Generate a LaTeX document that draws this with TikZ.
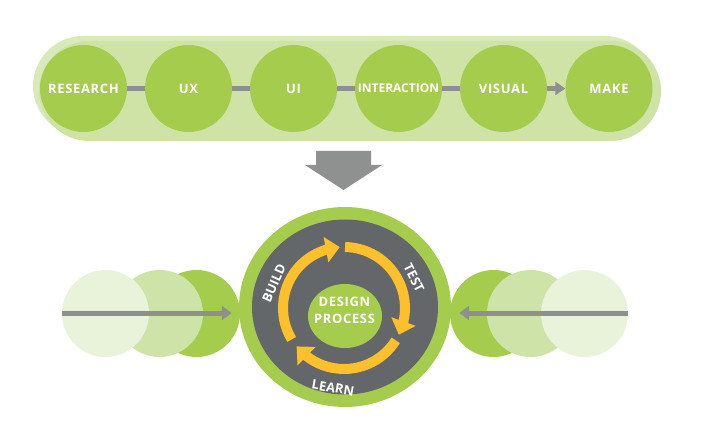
\documentclass[tikz,border=0pt]{standalone}
\usepackage{fontspec}
\newfontfamily\lblfont[LetterSpace=5]{Open Sans}
\newfontfamily\ringfont{Open Sans}
\usetikzlibrary{arrows.meta,bending,shapes.geometric}
\definecolor{pillback}{HTML}{D8EABA}
\definecolor{pill}{HTML}{CFE3A7}
\definecolor{leaf}{HTML}{A5CC4D}
\definecolor{leafmid}{HTML}{CEE3A7}
\definecolor{leaflight}{HTML}{E9F3DA}
\definecolor{linegray}{HTML}{8D908E}
\definecolor{slate}{HTML}{646769}
\definecolor{sun}{HTML}{FBC02B}
\definecolor{bigarrow}{HTML}{8F9190}
\begin{document}
\begin{tikzpicture}[x=1pt,y=1pt,
  stage/.style={circle,fill=leaf,minimum size=87pt,inner sep=0pt,text=white,
    font=\fontsize{13}{15}\selectfont\lblfont\bfseries},
  conn/.style={draw=linegray,line width=4.5pt},
  side/.style={circle,minimum size=87pt,inner sep=0pt},
  sidearrow/.style={draw=linegray,line width=5pt,-{Triangle[length=10pt,width=14pt]}},
  ringarrow/.style={draw=sun,line width=10pt,-{Triangle[length=14pt,width=25pt]}},
  ringlabel/.style={text=white,font=\fontsize{13}{15}\selectfont\ringfont\bfseries,inner sep=0pt},
  hubtext/.style={text=white,align=center,font=\fontsize{13}{17}\selectfont\lblfont\bfseries,inner sep=0pt}
]
\useasboundingbox (0,0) rectangle (717,426);
% pill
\fill[pillback,rounded corners=50pt] (33,290) rectangle (655,390);
\fill[pill,rounded corners=50pt] (39,285) rectangle (661,385);
% stages
\node[stage] (research) at (83.5,337.5) {RESEARCH};
\node[stage] (ux) at (188.5,337.5) {UX};
\node[stage] (ui) at (293.5,337.5) {UI};
\node[stage] (interaction) at (398.5,337.5) {\fontsize{12}{14}\selectfont\addfontfeatures{LetterSpace=0}INTERACTION};
\node[stage] (visual) at (503.5,337.5) {VISUAL};
\node[stage] (make) at (609,337.5) {MAKE};
\draw[conn] (research) -- (ux);
\draw[conn] (ux) -- (ui);
\draw[conn] (ui) -- (interaction);
\draw[conn] (interaction) -- (visual);
\draw[conn,-{Triangle[length=10pt,width=13pt]}] (visual) -- (make);
% big down arrow
\fill[bigarrow] (316,275) -- (371,275) -- (371,261) -- (382,261) -- (343.5,236) -- (305,261) -- (316,261) -- cycle;
% side circles left
\node[side,fill=leaf] (ldark) at (196.5,112.5) {};
\node[side,fill=leafmid] (lmid) at (159.5,112.5) {};
\node[side,fill=leaflight] (llight) at (105.5,112.5) {};
% side circles right
\node[side,fill=leaf] (rdark) at (493.5,112.5) {};
\node[side,fill=leafmid] (rmid) at (530.5,112.5) {};
\node[side,fill=leaflight] (rlight) at (584.5,112.5) {};
% big circle
\node[ellipse,fill=leaf,minimum width=212pt,minimum height=200pt,inner sep=0pt] (outer) at (345,119) {};
\node[ellipse,fill=slate,minimum width=186pt,minimum height=175pt,inner sep=0pt] (core) at (345,119) {};
\node[ellipse,fill=leaf,minimum width=74pt,minimum height=64pt,inner sep=0pt] (hub) at (345,110) {};
\node[hubtext] (hubtxt) at (344.5,115.5) {DESIGN\\PROCESS};
% ring arrows
\coordinate (ringc) at (344,118);
\draw[ringarrow] ([shift={(89:61)}]ringc) arc[start angle=89,end angle=-26,radius=61];
\draw[ringarrow] ([shift={(-32:61)}]ringc) arc[start angle=-32,end angle=-141,radius=61];
\draw[ringarrow] ([shift={(211:61)}]ringc) arc[start angle=211,end angle=94,radius=61];
\node[ringlabel,rotate=66] (build) at (274,143) {BUILD};
\node[ringlabel,rotate=-63] (test) at (414,148) {TEST};
\node[ringlabel,rotate=-10] (learn) at (333,38) {LEARN};
% side arrows
\coordinate (lstart) at (62,113);
\coordinate (rstart) at (628,113);
\draw[sidearrow,shorten >=7pt] (lstart) -- (lstart -| outer.west);
\draw[sidearrow,shorten >=8pt] (rstart) -- (rstart -| outer.east);
\end{tikzpicture}
\end{document}
